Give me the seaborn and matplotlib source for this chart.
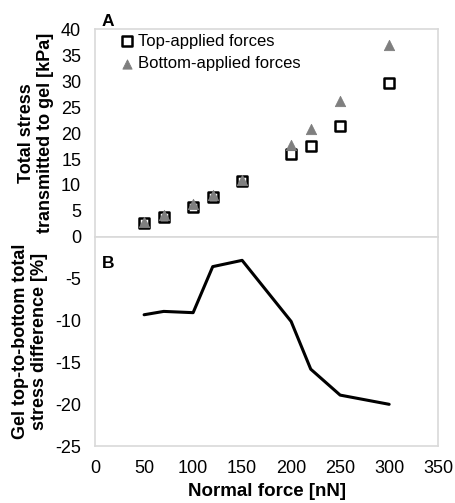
import numpy as np
import pandas as pd
import matplotlib
matplotlib.use("Agg")
import matplotlib.pyplot as plt
import seaborn as sns

force = [50, 70, 100, 120, 150, 200, 220, 250, 300]
top_stress = [2.75, 3.9, 5.8, 7.75, 10.8, 15.9, 17.6, 21.3, 29.6]
bottom_stress = [2.9, 4.2, 6.3, 8.1, 11.0, 17.7, 20.8, 26.2, 36.9]
diff_pct = [-9.3, -8.9, -9.05, -3.55, -2.8, -10.1, -15.8, -18.9, -20.0]

sns.set_style("white")
plt.rcParams['font.family'] = ['Liberation Sans', 'DejaVu Sans']
plt.rcParams['axes.unicode_minus'] = False
plt.rcParams['text.color'] = 'black'
plt.rcParams['axes.labelcolor'] = 'black'
plt.rcParams['xtick.color'] = 'black'
plt.rcParams['ytick.color'] = 'black'

df = pd.DataFrame({'force': force, 'top': top_stress, 'bottom': bottom_stress, 'diff': diff_pct})

fig = plt.figure(figsize=(4.55, 5.03), dpi=100)
ax1 = fig.add_axes([0.209, 0.529, 0.754, 0.413])
ax2 = fig.add_axes([0.209, 0.113, 0.754, 0.416])

grey = '#d9d9d9'

sns.scatterplot(data=df, x='force', y='top', marker='s', s=58, facecolor='white',
                edgecolor='black', linewidth=1.8, ax=ax1, label='Top-applied forces', zorder=3)
sns.scatterplot(data=df, x='force', y='bottom', marker='^', s=55, color='#7f7f7f',
                edgecolor='#7f7f7f', ax=ax1, label='Bottom-applied forces', zorder=4)

sns.lineplot(data=df, x='force', y='diff', color='black', linewidth=2.2, ax=ax2)

ax1.set_xlim(0, 350)
ax2.set_xlim(0, 350)
ax1.set_ylim(0, 40)
ax2.set_ylim(-25, 0)
ax1.set_xticks(np.arange(0, 351, 50))
ax2.set_xticks(np.arange(0, 351, 50))
ax1.set_yticks(np.arange(0, 41, 5))
ax2.set_yticks(np.arange(-25, -4, 5))
ax1.set_xticklabels([])

for ax in (ax1, ax2):
    for sp in ax.spines.values():
        sp.set_color(grey)
        sp.set_linewidth(1.2)
    ax.tick_params(axis='both', direction='in', color=grey, length=4, width=1,
                   labelsize=13, pad=10, labelcolor='black')

ax1.set_xlabel('')
ax1.set_ylabel('Total stress\ntransmitted to gel [kPa]', fontsize=13, fontweight='bold', labelpad=5)
ax2.set_ylabel('Gel top-to-bottom total\nstress difference [%]', fontsize=13, fontweight='bold', labelpad=5)
ax2.set_xlabel('Normal force [nN]', fontsize=13.5, fontweight='bold', labelpad=4)

ax1.legend(loc='upper left', bbox_to_anchor=(0.04, 1.035), frameon=False, fontsize=12,
           handlelength=0.8, handletextpad=0.25, labelspacing=0.45, borderpad=0.2,
           markerscale=0.9)

ax1.text(0.02, 1.0, 'A', transform=ax1.transAxes, fontsize=12.5, fontweight='bold', va='bottom')
ax2.text(0.02, 0.91, 'B', transform=ax2.transAxes, fontsize=12.5, fontweight='bold', va='top')

fig.savefig('out.png', dpi=100)
